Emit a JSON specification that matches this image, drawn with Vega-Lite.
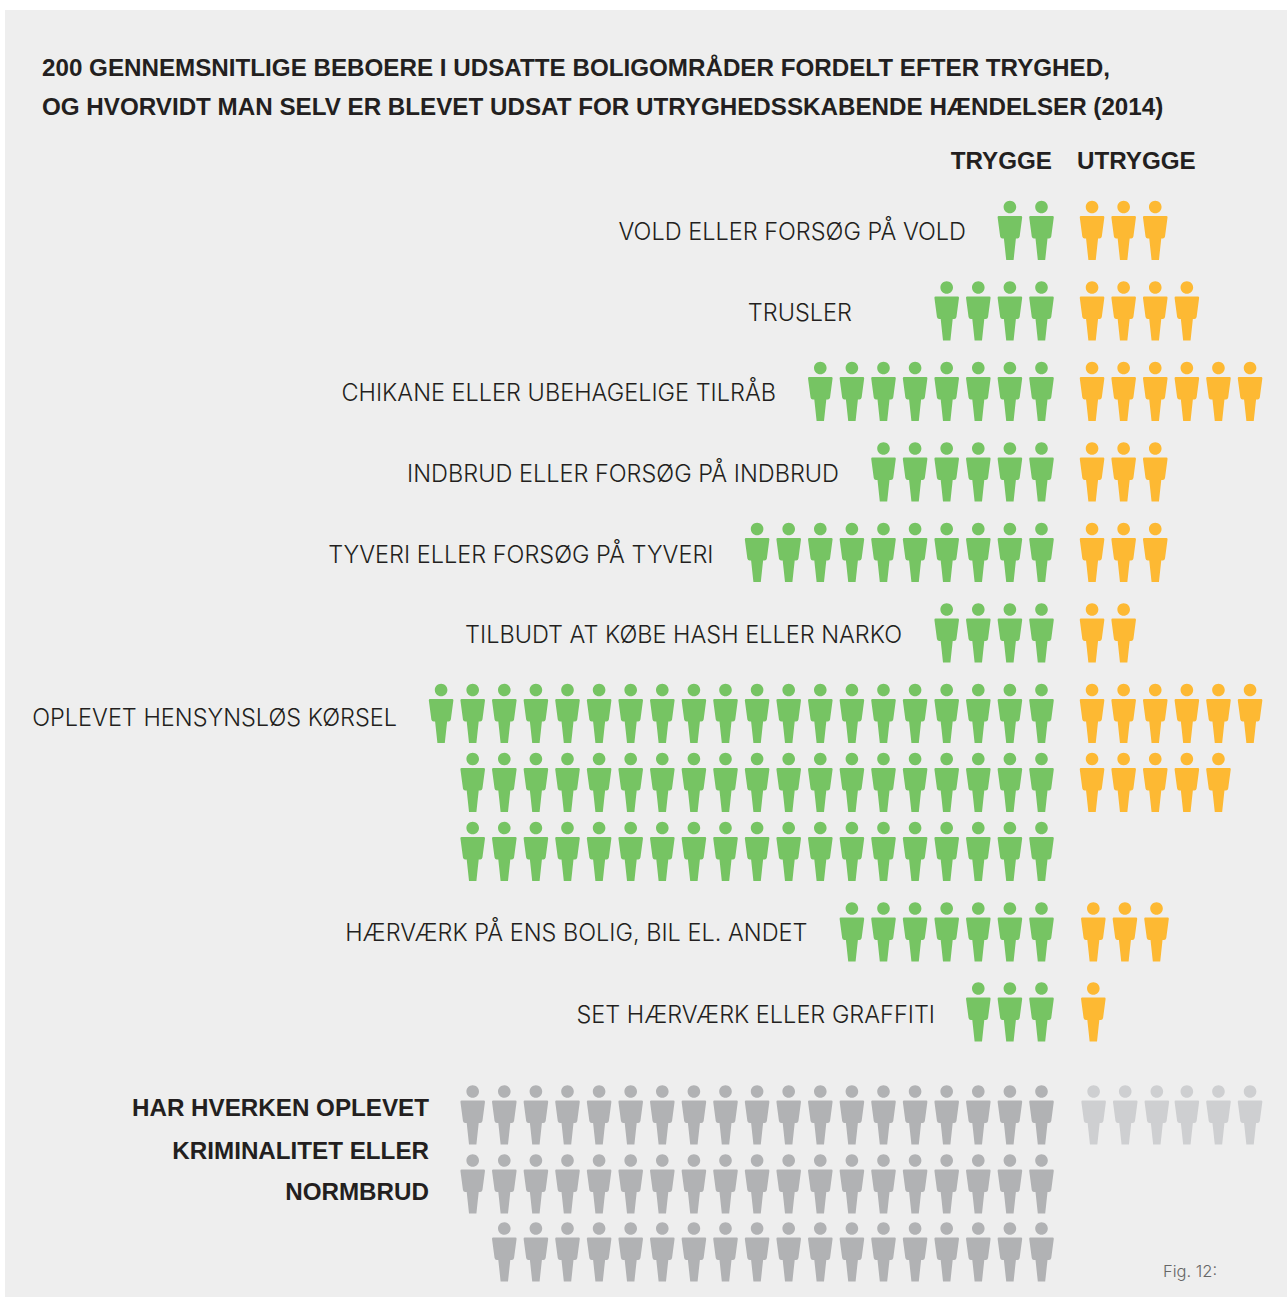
{"$schema":"https://vega.github.io/schema/vega-lite/v6.json","width":1287,"height":1297,"padding":0,"autosize":{"type":"fit","contains":"padding"},"background":"#ffffff","config":{"view":{"stroke":null}},
"datasets":{
"panel":[{"x":-32.8,"x2":7.769,"y":-2.739,"y2":13.248}],
"labels":[{"t":"VOLD ELLER FORSØG PÅ VOLD","x":-2.389,"y":0.019},{"t":"TRUSLER","x":-5.997,"y":1.025},{"t":"CHIKANE ELLER UBEHAGELIGE TILRÅB","x":-8.402,"y":2.019},{"t":"INDBRUD ELLER FORSØG PÅ INDBRUD","x":-6.408,"y":3.025},{"t":"TYVERI ELLER FORSØG PÅ TYVERI","x":-10.38,"y":4.025},{"t":"TILBUDT AT KØBE HASH ELLER NARKO","x":-4.415,"y":5.025},{"t":"OPLEVET HENSYNSLØS KØRSEL","x":-20.396,"y":6.05},{"t":"HÆRVÆRK PÅ ENS BOLIG, BIL EL. ANDET","x":-7.405,"y":8.727},{"t":"SET HÆRVÆRK ELLER GRAFFITI","x":-3.37,"y":9.745}],
"boldRight":[{"t":"HAR HVERKEN OPLEVET","x":-19.383,"y":10.9},{"t":"KRIMINALITET ELLER","x":-19.383,"y":11.435},{"t":"NORMBRUD","x":-19.383,"y":11.944},{"t":"TRYGGE","x":0.332,"y":-0.863}],
"boldLeft":[{"t":"UTRYGGE","x":1.123,"y":-0.863},{"t":"200 GENNEMSNITLIGE BEBOERE I UDSATTE BOLIGOMRÅDER FORDELT EFTER TRYGHED,","x":-31.63,"y":-2.019},{"t":"OG HVORVIDT MAN SELV ER BLEVET UDSAT FOR UTRYGHEDSSKABENDE HÆNDELSER (2014)","x":-31.63,"y":-1.534}],
"fig":[{"t":"Fig. 12:","x":3.845,"y":12.925}],
"personer":[
{"g":"tryg","x":0,"y":0},{"g":"tryg","x":-1,"y":0},
{"g":"utryg","x":1.6,"y":0},{"g":"utryg","x":2.6,"y":0},{"g":"utryg","x":3.6,"y":0},
{"g":"tryg","x":0,"y":1},{"g":"tryg","x":-1,"y":1},{"g":"tryg","x":-2,"y":1},{"g":"tryg","x":-3,"y":1},
{"g":"utryg","x":1.6,"y":1},{"g":"utryg","x":2.6,"y":1},{"g":"utryg","x":3.6,"y":1},{"g":"utryg","x":4.6,"y":1},
{"g":"tryg","x":0,"y":2},{"g":"tryg","x":-1,"y":2},{"g":"tryg","x":-2,"y":2},{"g":"tryg","x":-3,"y":2},{"g":"tryg","x":-4,"y":2},{"g":"tryg","x":-5,"y":2},{"g":"tryg","x":-6,"y":2},{"g":"tryg","x":-7,"y":2},
{"g":"utryg","x":1.6,"y":2},{"g":"utryg","x":2.6,"y":2},{"g":"utryg","x":3.6,"y":2},{"g":"utryg","x":4.6,"y":2},{"g":"utryg","x":5.6,"y":2},{"g":"utryg","x":6.6,"y":2},
{"g":"tryg","x":0,"y":3},{"g":"tryg","x":-1,"y":3},{"g":"tryg","x":-2,"y":3},{"g":"tryg","x":-3,"y":3},{"g":"tryg","x":-4,"y":3},{"g":"tryg","x":-5,"y":3},
{"g":"utryg","x":1.6,"y":3},{"g":"utryg","x":2.6,"y":3},{"g":"utryg","x":3.6,"y":3},
{"g":"tryg","x":0,"y":4},{"g":"tryg","x":-1,"y":4},{"g":"tryg","x":-2,"y":4},{"g":"tryg","x":-3,"y":4},{"g":"tryg","x":-4,"y":4},{"g":"tryg","x":-5,"y":4},{"g":"tryg","x":-6,"y":4},{"g":"tryg","x":-7,"y":4},{"g":"tryg","x":-8,"y":4},{"g":"tryg","x":-9,"y":4},
{"g":"utryg","x":1.6,"y":4},{"g":"utryg","x":2.6,"y":4},{"g":"utryg","x":3.6,"y":4},
{"g":"tryg","x":0,"y":5},{"g":"tryg","x":-1,"y":5},{"g":"tryg","x":-2,"y":5},{"g":"tryg","x":-3,"y":5},
{"g":"utryg","x":1.6,"y":5},{"g":"utryg","x":2.6,"y":5},
{"g":"tryg","x":0,"y":6},{"g":"tryg","x":-1,"y":6},{"g":"tryg","x":-2,"y":6},{"g":"tryg","x":-3,"y":6},{"g":"tryg","x":-4,"y":6},{"g":"tryg","x":-5,"y":6},{"g":"tryg","x":-6,"y":6},{"g":"tryg","x":-7,"y":6},{"g":"tryg","x":-8,"y":6},{"g":"tryg","x":-9,"y":6},{"g":"tryg","x":-10,"y":6},{"g":"tryg","x":-11,"y":6},{"g":"tryg","x":-12,"y":6},{"g":"tryg","x":-13,"y":6},{"g":"tryg","x":-14,"y":6},{"g":"tryg","x":-15,"y":6},{"g":"tryg","x":-16,"y":6},{"g":"tryg","x":-17,"y":6},{"g":"tryg","x":-18,"y":6},{"g":"tryg","x":-19,"y":6},
{"g":"utryg","x":1.6,"y":6},{"g":"utryg","x":2.6,"y":6},{"g":"utryg","x":3.6,"y":6},{"g":"utryg","x":4.6,"y":6},{"g":"utryg","x":5.6,"y":6},{"g":"utryg","x":6.6,"y":6},
{"g":"tryg","x":0,"y":6.857},{"g":"tryg","x":-1,"y":6.857},{"g":"tryg","x":-2,"y":6.857},{"g":"tryg","x":-3,"y":6.857},{"g":"tryg","x":-4,"y":6.857},{"g":"tryg","x":-5,"y":6.857},{"g":"tryg","x":-6,"y":6.857},{"g":"tryg","x":-7,"y":6.857},{"g":"tryg","x":-8,"y":6.857},{"g":"tryg","x":-9,"y":6.857},{"g":"tryg","x":-10,"y":6.857},{"g":"tryg","x":-11,"y":6.857},{"g":"tryg","x":-12,"y":6.857},{"g":"tryg","x":-13,"y":6.857},{"g":"tryg","x":-14,"y":6.857},{"g":"tryg","x":-15,"y":6.857},{"g":"tryg","x":-16,"y":6.857},{"g":"tryg","x":-17,"y":6.857},{"g":"tryg","x":-18,"y":6.857},
{"g":"utryg","x":1.6,"y":6.857},{"g":"utryg","x":2.6,"y":6.857},{"g":"utryg","x":3.6,"y":6.857},{"g":"utryg","x":4.6,"y":6.857},{"g":"utryg","x":5.6,"y":6.857},
{"g":"tryg","x":0,"y":7.714},{"g":"tryg","x":-1,"y":7.714},{"g":"tryg","x":-2,"y":7.714},{"g":"tryg","x":-3,"y":7.714},{"g":"tryg","x":-4,"y":7.714},{"g":"tryg","x":-5,"y":7.714},{"g":"tryg","x":-6,"y":7.714},{"g":"tryg","x":-7,"y":7.714},{"g":"tryg","x":-8,"y":7.714},{"g":"tryg","x":-9,"y":7.714},{"g":"tryg","x":-10,"y":7.714},{"g":"tryg","x":-11,"y":7.714},{"g":"tryg","x":-12,"y":7.714},{"g":"tryg","x":-13,"y":7.714},{"g":"tryg","x":-14,"y":7.714},{"g":"tryg","x":-15,"y":7.714},{"g":"tryg","x":-16,"y":7.714},{"g":"tryg","x":-17,"y":7.714},{"g":"tryg","x":-18,"y":7.714},
{"g":"tryg","x":0,"y":8.714},{"g":"tryg","x":-1,"y":8.714},{"g":"tryg","x":-2,"y":8.714},{"g":"tryg","x":-3,"y":8.714},{"g":"tryg","x":-4,"y":8.714},{"g":"tryg","x":-5,"y":8.714},{"g":"tryg","x":-6,"y":8.714},
{"g":"utryg","x":1.64,"y":8.714},{"g":"utryg","x":2.64,"y":8.714},{"g":"utryg","x":3.64,"y":8.714},
{"g":"tryg","x":0,"y":9.708},{"g":"tryg","x":-1,"y":9.708},{"g":"tryg","x":-2,"y":9.708},
{"g":"utryg","x":1.64,"y":9.708},
{"g":"tryg ingen","x":0,"y":10.988},{"g":"tryg ingen","x":-1,"y":10.988},{"g":"tryg ingen","x":-2,"y":10.988},{"g":"tryg ingen","x":-3,"y":10.988},{"g":"tryg ingen","x":-4,"y":10.988},{"g":"tryg ingen","x":-5,"y":10.988},{"g":"tryg ingen","x":-6,"y":10.988},{"g":"tryg ingen","x":-7,"y":10.988},{"g":"tryg ingen","x":-8,"y":10.988},{"g":"tryg ingen","x":-9,"y":10.988},{"g":"tryg ingen","x":-10,"y":10.988},{"g":"tryg ingen","x":-11,"y":10.988},{"g":"tryg ingen","x":-12,"y":10.988},{"g":"tryg ingen","x":-13,"y":10.988},{"g":"tryg ingen","x":-14,"y":10.988},{"g":"tryg ingen","x":-15,"y":10.988},{"g":"tryg ingen","x":-16,"y":10.988},{"g":"tryg ingen","x":-17,"y":10.988},{"g":"tryg ingen","x":-18,"y":10.988},
{"g":"utryg ingen","x":1.65,"y":10.988},{"g":"utryg ingen","x":2.65,"y":10.988},{"g":"utryg ingen","x":3.65,"y":10.988},{"g":"utryg ingen","x":4.6,"y":10.988},{"g":"utryg ingen","x":5.6,"y":10.988},{"g":"utryg ingen","x":6.6,"y":10.988},
{"g":"tryg ingen","x":0,"y":11.845},{"g":"tryg ingen","x":-1,"y":11.845},{"g":"tryg ingen","x":-2,"y":11.845},{"g":"tryg ingen","x":-3,"y":11.845},{"g":"tryg ingen","x":-4,"y":11.845},{"g":"tryg ingen","x":-5,"y":11.845},{"g":"tryg ingen","x":-6,"y":11.845},{"g":"tryg ingen","x":-7,"y":11.845},{"g":"tryg ingen","x":-8,"y":11.845},{"g":"tryg ingen","x":-9,"y":11.845},{"g":"tryg ingen","x":-10,"y":11.845},{"g":"tryg ingen","x":-11,"y":11.845},{"g":"tryg ingen","x":-12,"y":11.845},{"g":"tryg ingen","x":-13,"y":11.845},{"g":"tryg ingen","x":-14,"y":11.845},{"g":"tryg ingen","x":-15,"y":11.845},{"g":"tryg ingen","x":-16,"y":11.845},{"g":"tryg ingen","x":-17,"y":11.845},{"g":"tryg ingen","x":-18,"y":11.845},
{"g":"tryg ingen","x":0,"y":12.689},{"g":"tryg ingen","x":-1,"y":12.689},{"g":"tryg ingen","x":-2,"y":12.689},{"g":"tryg ingen","x":-3,"y":12.689},{"g":"tryg ingen","x":-4,"y":12.689},{"g":"tryg ingen","x":-5,"y":12.689},{"g":"tryg ingen","x":-6,"y":12.689},{"g":"tryg ingen","x":-7,"y":12.689},{"g":"tryg ingen","x":-8,"y":12.689},{"g":"tryg ingen","x":-9,"y":12.689},{"g":"tryg ingen","x":-10,"y":12.689},{"g":"tryg ingen","x":-11,"y":12.689},{"g":"tryg ingen","x":-12,"y":12.689},{"g":"tryg ingen","x":-13,"y":12.689},{"g":"tryg ingen","x":-14,"y":12.689},{"g":"tryg ingen","x":-15,"y":12.689},{"g":"tryg ingen","x":-16,"y":12.689},{"g":"tryg ingen","x":-17,"y":12.689}
]},
"encoding":{
"x":{"field":"x","type":"quantitative","axis":null,"scale":{"domain":[-32.959,7.769],"nice":false,"zero":false}},
"y":{"field":"y","type":"quantitative","axis":null,"scale":{"domain":[-2.863,13.248],"reverse":true,"nice":false,"zero":false}}
},
"layer":[
{"data":{"name":"panel"},"mark":{"type":"rect","fill":"#eeeeee"},"encoding":{"x2":{"field":"x2"},"y2":{"field":"y2"}}},
{"data":{"name":"personer"},"mark":{"type":"point","filled":true,"opacity":1,"size":3600,"strokeWidth":0,"shape":"M-0.37,-0.483L0.37,-0.483Q0.41,-0.483 0.41,-0.44L0.325,0.2Q0.31,0.267 0.25,0.267L0.2,0.267L0.123,0.983L-0.123,0.983L-0.2,0.267L-0.25,0.267Q-0.31,0.267 -0.325,0.2L-0.41,-0.44Q-0.41,-0.483 -0.37,-0.483ZM-0.21,-0.783C-0.21,-0.899 -0.116,-0.993 0,-0.993C0.116,-0.993 0.21,-0.899 0.21,-0.783C0.21,-0.667 0.116,-0.573 0,-0.573C-0.116,-0.573 -0.21,-0.667 -0.21,-0.783Z"},"encoding":{"color":{"field":"g","type":"nominal","legend":null,"scale":{"domain":["tryg","utryg","tryg ingen","utryg ingen"],"range":["#76c463","#fdb933","#b1b2b4","#cecfd1"]}}}},
{"data":{"name":"labels"},"mark":{"type":"text","align":"right","baseline":"middle","dy":1,"font":"Inter","fontWeight":300,"fontSize":23.5,"fill":"#231f20"},"encoding":{"text":{"field":"t"}}},
{"data":{"name":"boldRight"},"mark":{"type":"text","align":"right","baseline":"middle","dy":1,"font":"Liberation Sans","fontWeight":"bold","fontSize":24.2,"fill":"#231f20"},"encoding":{"text":{"field":"t"}}},
{"data":{"name":"boldLeft"},"mark":{"type":"text","align":"left","baseline":"middle","dy":1,"font":"Liberation Sans","fontWeight":"bold","fontSize":24.2,"fill":"#231f20"},"encoding":{"text":{"field":"t"}}},
{"data":{"name":"fig"},"mark":{"type":"text","align":"left","baseline":"middle","dy":1,"font":"Inter","fontWeight":300,"fontSize":16.5,"fill":"#666666"},"encoding":{"text":{"field":"t"}}}
]}
